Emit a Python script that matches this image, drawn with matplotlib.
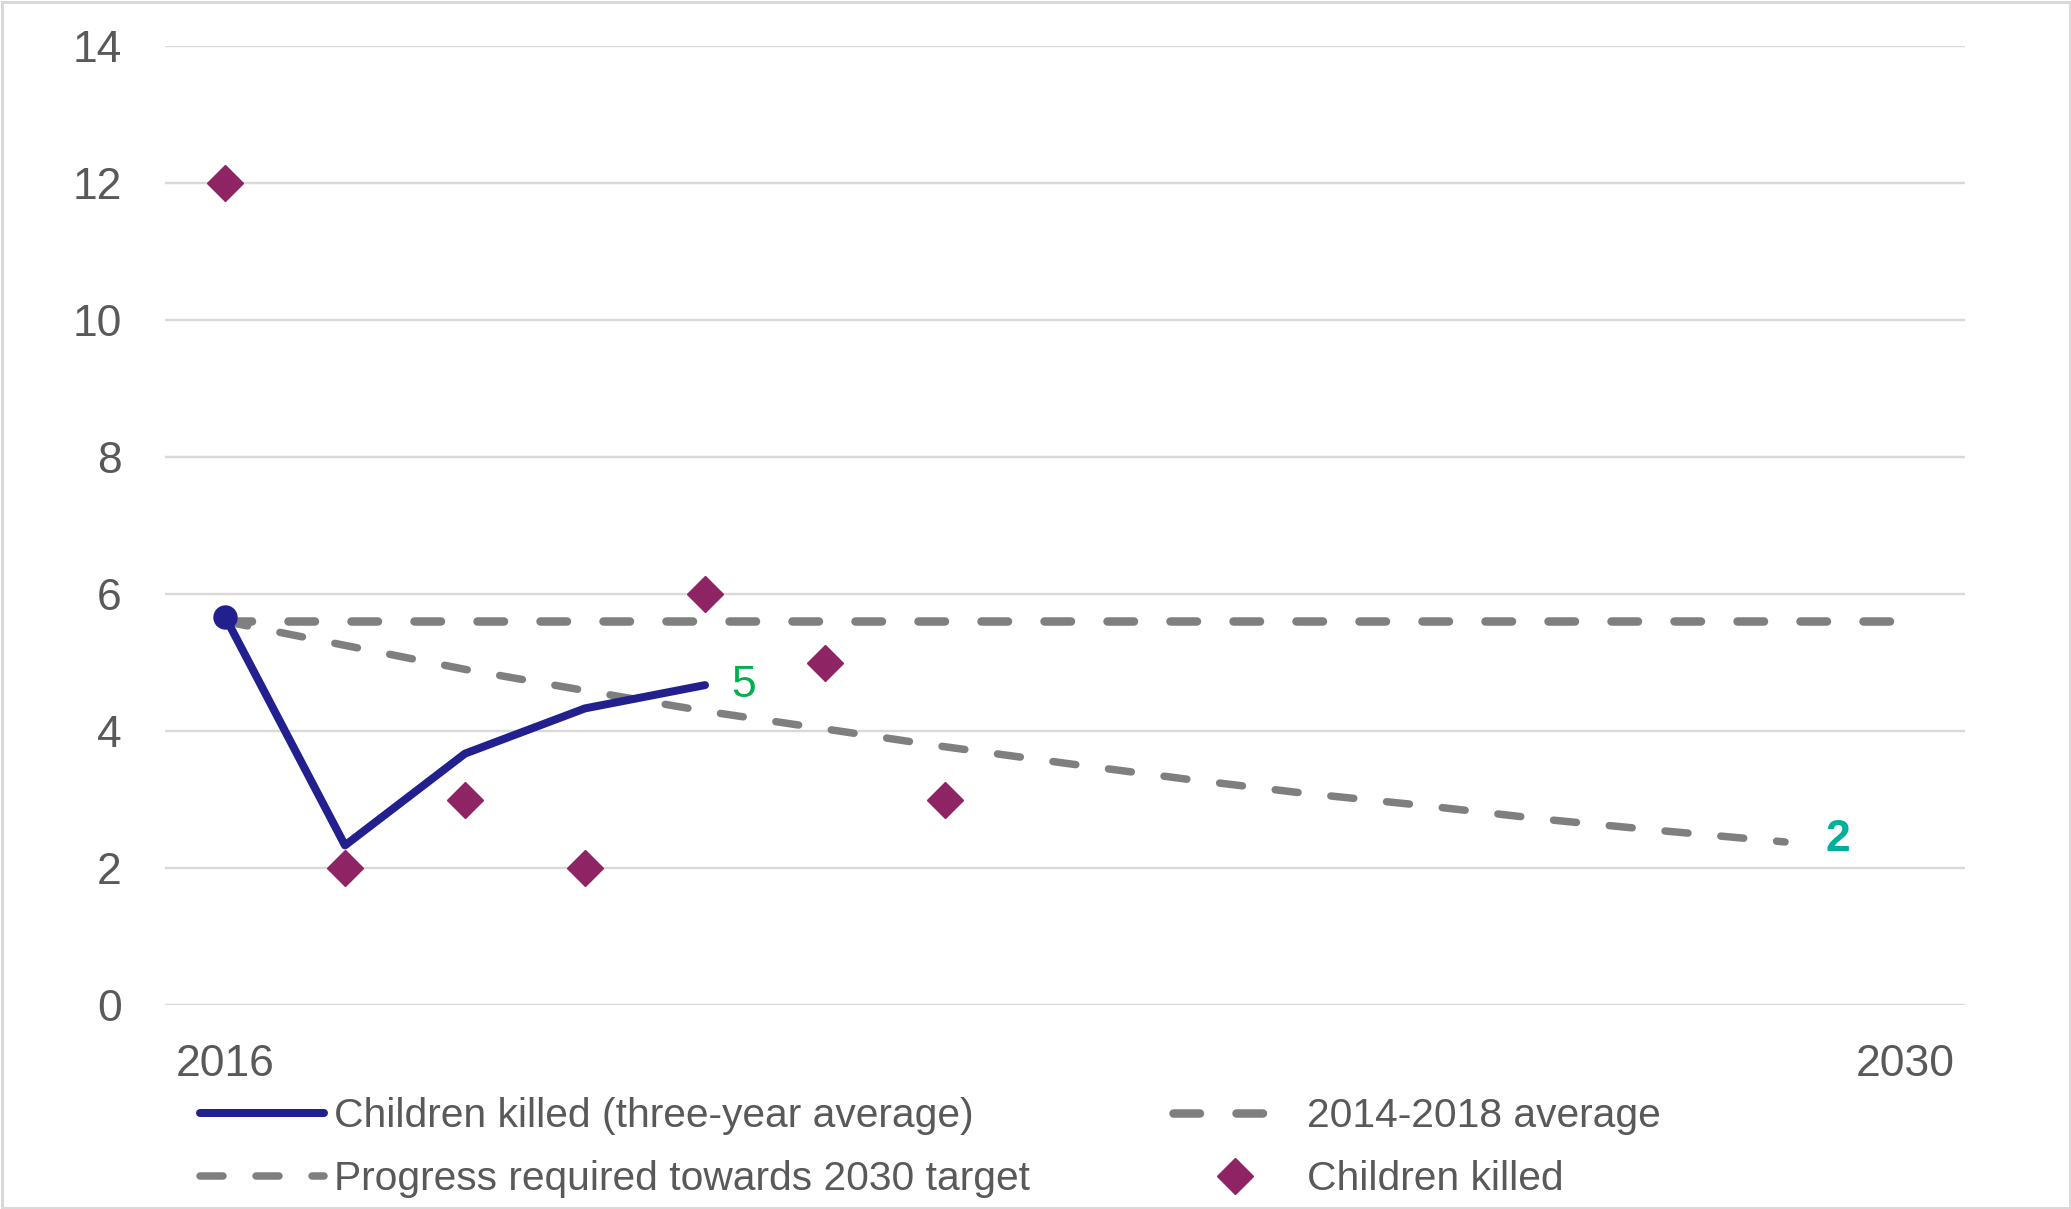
import matplotlib
matplotlib.use('Agg')
import matplotlib.pyplot as plt
from matplotlib.patches import Rectangle

plt.rcParams['font.family'] = ['Liberation Sans', 'DejaVu Sans']
plt.rcParams['lines.scale_dashes'] = False

# ---- data ----
year_start = 2016
year_end = 2030
tick_labels = ['2016', '2030']

killed_years = [2016, 2017, 2018, 2019, 2020, 2021, 2022]
killed = [12, 2, 3, 2, 6, 5, 3]

avg3_years = [2016, 2017, 2018, 2019, 2020]
avg3 = [5.67, 2.33, 3.67, 4.33, 4.67]

baseline_years = [2016, 2030]
baseline = [5.6, 5.6]

progress_years = [2016, 2017, 2018, 2019, 2020, 2021, 2022, 2023,
                  2024, 2025, 2026, 2027, 2028, 2029]
progress = [5.6, 5.25, 4.90, 4.59, 4.29, 4.03, 3.77, 3.53,
            3.30, 3.09, 2.91, 2.71, 2.54, 2.38]

label_avg3 = '5'
label_target = '2'

# ---- style ----
PX = 72 / 100.0  # points per pixel at dpi 100
TEXT = '#595959'
GRID = '#d9d9d9'
BLUE = '#221F8F'
GREY = '#7f7f7f'
PURPLE = '#8E2464'

fig = plt.figure(figsize=(20.71, 12.09), dpi=100)
ax = fig.add_axes([165 / 2071, 1 - 1005 / 1209, 1800 / 2071, (1005 - 46) / 1209])

def xi(years):
    return [y - year_start for y in years]

ax.set_xlim(-0.5, year_end - year_start + 0.5)
ax.set_ylim(0, 14)
ax.set_yticks(range(0, 15, 2))
ax.set_xticks([0, year_end - year_start])
ax.set_xticklabels(tick_labels)
ax.grid(axis='y', color=GRID, lw=2.4 * PX)
ax.set_axisbelow(True)
for s in ax.spines.values():
    s.set_visible(False)
ax.tick_params(axis='both', length=0, labelsize=32, labelcolor=TEXT)
ax.tick_params(axis='y', pad=31)
ax.tick_params(axis='x', pad=28)

# baseline average
l_base, = ax.plot(xi(baseline_years), baseline, color=GREY, lw=8.5 * PX,
                  dash_capstyle='round', label='2014-2018 average', zorder=3)
l_base.set_dashes((26.5 * PX, 36.5 * PX))

# progress required
l_prog, = ax.plot(xi(progress_years), progress, color=GREY, lw=7.5 * PX,
                  dash_capstyle='round', label='Progress required towards 2030 target', zorder=3)
l_prog.set_dashes((23 * PX, 33 * PX))

# three-year average
l_avg, = ax.plot(xi(avg3_years), avg3, color=BLUE, lw=8 * PX, solid_capstyle='round',
                 solid_joinstyle='round',
                 label='Children killed (three-year average)', zorder=4)
ax.plot(xi(avg3_years[:1]), avg3[:1], 'o', color=BLUE, ms=23 * PX, zorder=5)

# children killed
l_kill, = ax.plot(xi(killed_years), killed, 'D', color=PURPLE, ms=35 * PX / 1.414,
                  lw=0, label='Children killed', zorder=6)

# data labels
ax.annotate(label_avg3, (xi(avg3_years)[-1], avg3[-1]), xytext=(26 * PX, 0),
            textcoords='offset points', ha='left', va='center', fontsize=32, color='#00B050')
ax.annotate(label_target, (xi(progress_years)[-1], progress[-1]), xytext=(40 * PX, 2 * PX),
            textcoords='offset points', ha='left', va='center', fontsize=32, color='#00B09B',
            fontweight='bold')

# legend
handles = [l_avg, l_prog, l_base, l_kill]
leg = fig.legend(handles=handles, labels=[h.get_label() for h in handles], ncol=2,
                 loc='upper left', bbox_to_anchor=(200 / 2071, 1 - 1097 / 1209),
                 frameon=False, fontsize=29.3, labelcolor=TEXT, borderpad=0,
                 handlelength=124 / 40.7, handletextpad=10 / 40.7,
                 columnspacing=143 / 40.7, labelspacing=0.62, borderaxespad=0)

# outer border
fig.patches.append(Rectangle((1.5 / 2071, 1.5 / 1209), 1 - 3 / 2071, 1 - 3 / 1209,
                             transform=fig.transFigure, fill=False,
                             edgecolor=GRID, lw=3 * PX))

fig.savefig('out.png', dpi=100)
